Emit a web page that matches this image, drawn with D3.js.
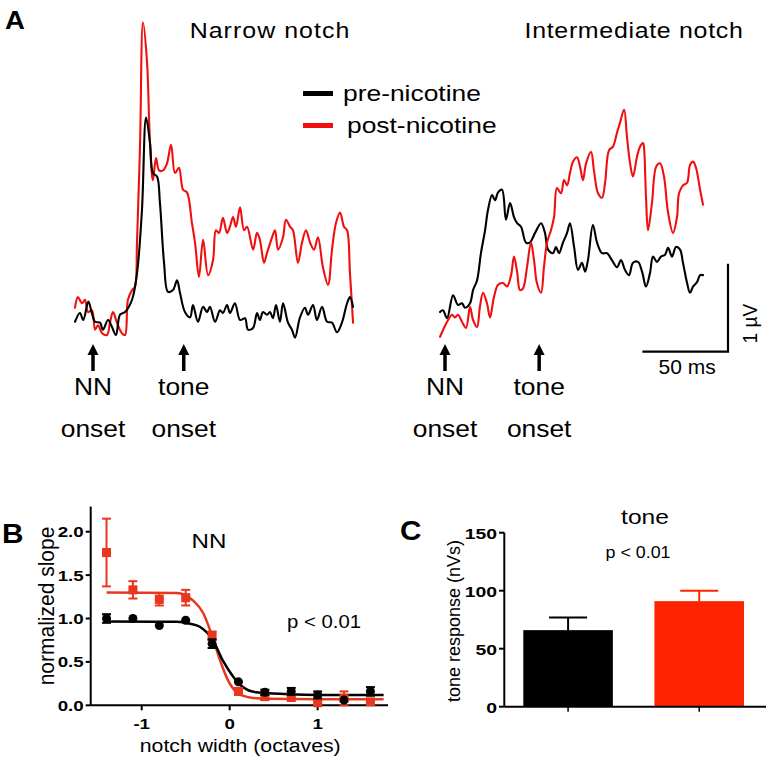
<!DOCTYPE html>
<html><head><meta charset="utf-8">
<script src="https://cdn.jsdelivr.net/npm/d3@7"></script>
<style>html,body{margin:0;padding:0;background:#fff}svg{display:block}</style>
</head><body>
<script>
// ---------- DATA ----------
// Panel A traces: [time (ms, re NN onset), amplitude (µV)]
const narrowPre = [[-10.5,-0.02],[-7.6,0.08],[-5.7,0],[-2.7,0.21],[-0.8,0.09],[1.2,-0.02],[4.1,-0.03],[5.8,-0.11],[8.8,0],[11.1,-0.08],[13.4,-0.17],[15.8,0.06],[18.7,0.09],[22.8,0.23],[25.7,0.53],[28.6,1.25],[31.0,2.30],[33.3,2.01],[35.0,1.67],[37.4,1.63],[39.1,1.33],[41.5,0.65],[43.8,0.32],[46.7,0.34],[49.1,0.45],[50.8,0.31],[53.7,0.09],[56.7,0.03],[58.4,0.17],[61.3,-0.02],[64.3,0.15],[66.6,0.09],[68.3,0.15],[71.3,-0.02],[74.2,0.11],[75.9,0.08],[78.3,0.17],[80.0,0.08],[82.9,0.19],[85.9,0],[88.8,0.02],[90.5,-0.11],[93.5,-0.09],[95.8,0.08],[97.5,0],[99.3,0.09],[101.6,0.06],[103.4,0.09],[105.1,0.02],[106.9,0.17],[109.2,-0.02],[111.0,0.19],[113.9,-0.03],[116.2,-0.11],[118.0,-0.2],[120.9,0.03],[123.8,0.14],[125.6,0.06],[128.5,0.17],[130.8,0],[133.8,0.15],[136.7,-0.02],[139.6,-0.03],[142.5,-0.14],[145.4,-0.03],[148.4,0.19],[150.1,0.26],[151.9,0.15]];
const narrowPost = [[-10.5,0.14],[-8.8,0.26],[-6.4,0.19],[-4.7,0.23],[-2.9,0.09],[-0.6,0.11],[1.2,-0.11],[2.9,-0.06],[5.3,-0.15],[8.2,-0.17],[9.9,-0.03],[11.7,0.09],[14.0,-0.03],[16.9,-0.15],[18.7,-0.17],[20.4,0.23],[22.8,0.34],[24.5,0.38],[25.7,0.88],[27.5,2.01],[29.2,3.38],[31.5,2.95],[33.3,2.01],[35.0,1.59],[36.8,1.84],[38.6,1.70],[40.9,1.70],[43.2,1.78],[45.6,1.99],[47.9,1.67],[50.2,1.73],[52.6,1.48],[54.9,1.45],[57.8,1.10],[59.6,0.88],[61.9,0.49],[64.3,0.91],[67.2,0.51],[70.1,0.68],[71.8,1.02],[73.6,0.99],[75.9,1.16],[78.3,0.99],[80.0,1.06],[81.8,1.17],[83.5,1.06],[85.9,1.28],[88.2,1.02],[90.0,1.06],[93.5,0.80],[95.8,0.99],[97.5,0.91],[99.9,0.65],[101.6,0.76],[104.6,0.94],[106.3,1.02],[108.1,0.80],[111.0,0.94],[112.7,1.14],[115.1,1.06],[116.8,1.02],[119.7,0.65],[122.1,0.88],[124.4,1.02],[126.8,0.88],[129.1,0.80],[131.4,0.94],[134.3,0.60],[137.3,0.40],[139.6,0.80],[141.9,1.10],[144.3,1.22],[146.6,1.06],[148.4,1.02],[150.1,0.53],[151.9,-0.03]];
const interPre = [[-2.9,0.09],[-1.2,0.11],[1.2,0.02],[4.7,0.28],[7.6,0.17],[9.9,0.19],[11.7,0.14],[14.6,0.19],[16.4,0.34],[18.7,0.45],[21.0,0.76],[23.4,1.02],[25.1,1.25],[27.5,1.42],[29.2,1.36],[31.0,1.45],[33.3,1.48],[35.6,1.14],[38.0,1.33],[40.3,1.17],[42.1,1.10],[44.4,1.06],[47.3,0.88],[49.6,0.88],[52.6,0.99],[56.1,1.10],[58.4,0.99],[60.2,0.80],[63.1,0.76],[64.8,0.83],[66.6,0.76],[68.9,0.88],[71.3,0.99],[73.0,1.10],[75.4,0.83],[77.7,0.57],[80.0,0.65],[81.8,0.55],[83.5,0.68],[86.4,1.08],[88.8,0.88],[91.7,0.76],[94.6,0.76],[97.5,0.68],[100.5,0.60],[102.8,0.68],[105.1,0.57],[107.5,0.51],[109.8,0.65],[112.7,0.66],[115.1,0.55],[117.4,0.38],[119.7,0.53],[121.5,0.72],[123.8,0.66],[126.2,0.72],[128.5,0.74],[130.3,0.82],[132.6,0.72],[134.9,0.83],[137.3,0.80],[139.0,0.65],[141.4,0.42],[143.1,0.31],[144.9,0.38],[147.2,0.43],[149.0,0.51],[150.7,0.51]];
const interPost = [[-2.9,-0.19],[-0.6,-0.09],[1.8,0],[4.1,0.06],[5.8,0.03],[7.6,0.06],[9.9,-0.02],[12.3,-0.09],[14.6,0.15],[16.4,0],[18.7,-0.08],[20.4,0.15],[22.2,0.31],[24.5,0.19],[26.3,0.03],[28.6,0.26],[31.0,0.40],[33.9,0.42],[36.2,0.38],[38.6,0.51],[40.3,0.72],[42.1,0.55],[43.8,0.34],[45.6,0.36],[47.9,0.60],[50.2,0.88],[52.0,0.68],[53.7,0.42],[56.1,0.31],[57.8,0.60],[59.6,0.88],[61.9,1.02],[63.7,1.17],[65.4,1.50],[67.8,1.44],[69.5,1.59],[71.3,1.53],[73.0,1.67],[74.8,1.80],[77.1,1.85],[78.9,1.74],[80.6,1.59],[82.4,1.78],[85.3,1.91],[87.0,1.70],[89.4,1.44],[91.7,1.39],[93.5,1.56],[95.8,1.93],[98.1,1.97],[100.5,2.13],[102.2,2.24],[104.6,2.39],[106.3,2.08],[108.1,1.78],[109.8,1.63],[112.1,1.85],[113.9,1.97],[115.7,2.01],[116.2,1.97],[117.4,1.40],[118.6,1.02],[120.9,1.33],[123.3,1.74],[125.6,1.78],[127.9,1.63],[130.3,1.22],[133.2,0.99],[135.5,1.17],[136.7,1.44],[139.0,1.53],[141.4,1.56],[143.1,1.76],[144.9,1.80],[146.6,1.73],[149.0,1.48],[150.7,1.31]];
const toneOnsetMs = [53, 55];          // narrow, intermediate
const panelTitles = ["Narrow notch", "Intermediate notch"];
const legendLabels = ["pre-nicotine", "post-nicotine"];
const scaleBarMs = 50, scaleBarUV = 1;

// Panel B
const octaves  = [-1.4,-1.1,-0.8,-0.5,-0.2,0.1,0.4,0.7,1.0,1.3,1.6];
const preMean  = [1.00,1.00,0.92,0.98,0.71,0.27,0.15,0.16,0.12,0.06,0.16];
const preErr   = [0.05,0,0,0,0.05,0,0.03,0.04,0.04,0,0.05];
const postMean = [1.76,1.33,1.22,1.24,0.80,0.16,0.10,0.09,0.03,0.08,0.04];
const postErr  = [0.39,0.10,0.07,0.09,0.05,0.04,0.02,0.02,0.02,0.08,0.03];
const preFit  = [[-1.4,0.965],[-0.6,0.962],[-0.45,0.94],[-0.34,0.905],[-0.19,0.75],[-0.08,0.52],[0.04,0.33],[0.15,0.21],[0.30,0.15],[0.65,0.13],[1.0,0.12],[1.75,0.12]];
const postFit = [[-1.4,1.30],[-0.6,1.295],[-0.42,1.21],[-0.30,1.06],[-0.21,0.83],[-0.11,0.52],[-0.02,0.29],[0.08,0.15],[0.23,0.09],[0.42,0.075],[1.0,0.07],[1.75,0.07]];
const bYTicks = [0, 0.5, 1.0, 1.5, 2.0];
const bXTicks = [-1, 0, 1];

// Panel C
const groups   = ["pre-nicotine", "post-nicotine"];
const toneMean = [66, 91];
const toneErr  = [11, 9];
const cYTicks  = [0, 50, 100, 150];

// ---------- DRAWING ----------
const W = 766, H = 758;
const FONT = "'Liberation Sans', Arial, Helvetica, sans-serif";
const BLACK = "#000", RED = "#f00f0f", RED_B = "#e8371f", RED_C = "#ff2400";
const svg = d3.select("body").append("svg").attr("width", W).attr("height", H)
  .style("font-family", FONT);

function txt(x, y, s, o = {}) {
  const sx = o.sx ?? 1.2;
  const g = svg.append("g").attr("transform", `translate(${x},${y}) scale(${sx},1)` + (o.rot ? ` rotate(${o.rot})` : ""));
  g.append("text").text(s)
    .attr("text-anchor", o.anchor || "start")
    .attr("font-size", o.size || 21)
    .attr("font-weight", o.weight || "normal")
    .attr("letter-spacing", o.ls || 0)
    .attr("fill", o.fill || "#000");
  return g;
}

// ===== Panel A =====
txt(5, 29, "A", {size: 25, weight: "bold", sx: 1.1});
const pxPerMs = 85.6 / 50;
const xA = [
  d3.scaleLinear().domain([0, 50]).range([93, 93 + 50 * pxPerMs]),
  d3.scaleLinear().domain([0, 50]).range([445, 445 + 50 * pxPerMs])
];
const yA = d3.scaleLinear().domain([0, 1]).range([320, 232]);
const traces = [[narrowPre, narrowPost], [interPre, interPost]];
[0, 1].forEach(p => {
  const line = d3.line().x(d => xA[p](d[0])).y(d => yA(d[1])).curve(d3.curveCatmullRom.alpha(0.5));
  const order = p === 0 ? [1, 0] : [0, 1];
  order.forEach(k => {
    svg.append("path").attr("d", line(traces[p][k])).attr("fill", "none")
      .attr("stroke", k === 0 ? BLACK : RED).attr("stroke-width", 2.1)
      .attr("stroke-linejoin", "round").attr("stroke-linecap", "round");
  });
  // onset arrows
  [0, toneOnsetMs[p]].forEach((t, i) => {
    const x = xA[p](t);
    svg.append("line").attr("x1", x).attr("x2", x).attr("y1", 352).attr("y2", 371)
      .attr("stroke", "#000").attr("stroke-width", 3.5);
    svg.append("path").attr("d", `M${x - 5.5},${355} L${x},${344} L${x + 5.5},${355} Z`).attr("fill", "#000");
    txt(x, 395, i === 0 ? "NN" : "tone", {anchor: "middle", size: 24, sx: 1.1});
    txt(x, 437, "onset", {anchor: "middle", size: 24, sx: 1.1});
  });
});
txt(270, 38, panelTitles[0], {anchor: "middle", size: 21.5, sx: 1.16, ls: 0.9});
txt(634, 38, panelTitles[1], {anchor: "middle", size: 21.5, sx: 1.16, ls: 0.6});

// legend
[0, 1].forEach(i => {
  const y = i === 0 ? 93.5 : 125.5;
  svg.append("line").attr("x1", 303).attr("x2", 333).attr("y1", y).attr("y2", y)
    .attr("stroke", i === 0 ? BLACK : RED).attr("stroke-width", 5);
  txt(i === 0 ? 343 : 347, y + 7.5, legendLabels[i], {size: 22, sx: 1.2});
});

// scale bar
const sbT0 = 165.3 - scaleBarMs, sbV0 = -0.36;
const sbX1 = xA[1](sbT0), sbX2 = xA[1](sbT0 + scaleBarMs);
const sbY1 = yA(sbV0), sbY2 = yA(sbV0 + scaleBarUV);
svg.append("path").attr("d", `M${sbX1},${sbY1} L${sbX2},${sbY1} L${sbX2},${sbY2}`)
  .attr("fill", "none").attr("stroke", "#000").attr("stroke-width", 2.2);
txt((sbX1 + sbX2) / 2 + 2, 374, scaleBarMs + " ms", {anchor: "middle", size: 20, sx: 1.05});
txt(757, (sbY1 + sbY2) / 2 + 16, scaleBarUV + " µV", {anchor: "middle", size: 19, rot: -90, sx: 1.1});

// ===== Panel B =====
txt(2, 543, "B", {size: 27, weight: "bold", sx: 1.1});
const xB = d3.scaleLinear().domain([-1.58, 1.8]).range([90.7, 388]);
const yB = d3.scaleLinear().domain([0, 2.0]).range([705.3, 531.7]);
const gB = svg.append("g");
gB.append("line").attr("x1", xB(-1.58)).attr("x2", xB(-1.58)).attr("y1", yB(0)).attr("y2", yB(2.29)).attr("stroke", "#000").attr("stroke-width", 2);
gB.append("line").attr("x1", xB(-1.58)).attr("x2", xB(1.8)).attr("y1", yB(0)).attr("y2", yB(0)).attr("stroke", "#000").attr("stroke-width", 2);
bYTicks.forEach(v => {
  gB.append("line").attr("x1", xB(-1.58) - 5).attr("x2", xB(-1.58)).attr("y1", yB(v)).attr("y2", yB(v)).attr("stroke", "#000").attr("stroke-width", 2);
  txt(xB(-1.58) - 7, yB(v) + 5.5, v.toFixed(1), {anchor: "end", size: 15, weight: "bold", sx: 1.25});
});
bXTicks.forEach(v => {
  gB.append("line").attr("x1", xB(v)).attr("x2", xB(v)).attr("y1", yB(0)).attr("y2", yB(0) + 5).attr("stroke", "#000").attr("stroke-width", 2);
  txt(xB(v), 729, String(v), {anchor: "middle", size: 15, weight: "bold", sx: 1.25});
});
txt(xB(0.12), 752, "notch width (octaves)", {anchor: "middle", size: 19, sx: 1.12});
txt(54, 606, "normalized slope", {anchor: "middle", size: 21, rot: -90, sx: 1.05});
txt(209, 548, "NN", {anchor: "middle", size: 21, sx: 1.15});
txt(287, 628, "p < 0.01", {size: 19, sx: 1.07});

const fitLine = d3.line().x(d => xB(d[0])).y(d => yB(d[1])).curve(d3.curveMonotoneX);
gB.append("path").attr("d", fitLine(postFit)).attr("fill", "none").attr("stroke", RED_B).attr("stroke-width", 2.5);
gB.append("path").attr("d", fitLine(preFit)).attr("fill", "none").attr("stroke", BLACK).attr("stroke-width", 2.5);

function errBar(g, x, m, e, color) {
  if (e <= 0) return;
  g.append("line").attr("x1", x).attr("x2", x).attr("y1", yB(m - e)).attr("y2", yB(m + e)).attr("stroke", color).attr("stroke-width", 2);
  [m - e, m + e].forEach(v => g.append("line").attr("x1", x - 4.5).attr("x2", x + 4.5).attr("y1", yB(v)).attr("y2", yB(v)).attr("stroke", color).attr("stroke-width", 2));
}
octaves.forEach((o, i) => {
  errBar(gB, xB(o), postMean[i], postErr[i], RED_B);
  gB.append("rect").attr("x", xB(o) - 4.5).attr("y", yB(postMean[i]) - 4.5).attr("width", 9).attr("height", 9).attr("fill", RED_B);
});
octaves.forEach((o, i) => {
  errBar(gB, xB(o), preMean[i], preErr[i], BLACK);
  gB.append("circle").attr("cx", xB(o)).attr("cy", yB(preMean[i])).attr("r", 4.5).attr("fill", BLACK);
});

// ===== Panel C =====
txt(400, 540, "C", {size: 27, weight: "bold", sx: 1.1});
const xC = d3.scaleBand().domain(groups).range([504.3, 763]).paddingInner(0.317).paddingOuter(0.145);
const yC = d3.scaleLinear().domain([0, 150]).range([706.7, 532.7]);
const gC = svg.append("g");
groups.forEach((g, i) => {
  const x = xC(g), w = xC.bandwidth(), cx = x + w / 2;
  const col = i ? RED_C : "#000";
  gC.append("line").attr("x1", cx).attr("x2", cx).attr("y1", yC(toneMean[i])).attr("y2", yC(toneMean[i] + toneErr[i])).attr("stroke", col).attr("stroke-width", 2);
  gC.append("line").attr("x1", cx - 19).attr("x2", cx + 19).attr("y1", yC(toneMean[i] + toneErr[i])).attr("y2", yC(toneMean[i] + toneErr[i])).attr("stroke", col).attr("stroke-width", 2);
  gC.append("rect").attr("x", x).attr("y", yC(toneMean[i])).attr("width", w).attr("height", yC(0) - yC(toneMean[i])).attr("fill", col);
  gC.append("line").attr("x1", cx).attr("x2", cx).attr("y1", yC(0)).attr("y2", yC(0) + 5).attr("stroke", "#000").attr("stroke-width", 1.5);
});
gC.append("line").attr("x1", 504.3).attr("x2", 504.3).attr("y1", yC(0)).attr("y2", yC(150)).attr("stroke", "#000").attr("stroke-width", 2);
gC.append("line").attr("x1", 504.3).attr("x2", 766).attr("y1", yC(0)).attr("y2", yC(0)).attr("stroke", "#000").attr("stroke-width", 2);
cYTicks.forEach(v => {
  gC.append("line").attr("x1", 499).attr("x2", 504.3).attr("y1", yC(v)).attr("y2", yC(v)).attr("stroke", "#000").attr("stroke-width", 2);
  txt(497, yC(v) + 6, String(v), {anchor: "end", size: 15.5, weight: "bold", sx: 1.25});
});
txt(460, 621, "tone response (nVs)", {anchor: "middle", size: 18, rot: -90, sx: 1.05});
txt(645, 524, "tone", {anchor: "middle", size: 21, sx: 1.17});
txt(638, 558, "p < 0.01", {anchor: "middle", size: 17, sx: 1.05});
</script>
</body></html>
